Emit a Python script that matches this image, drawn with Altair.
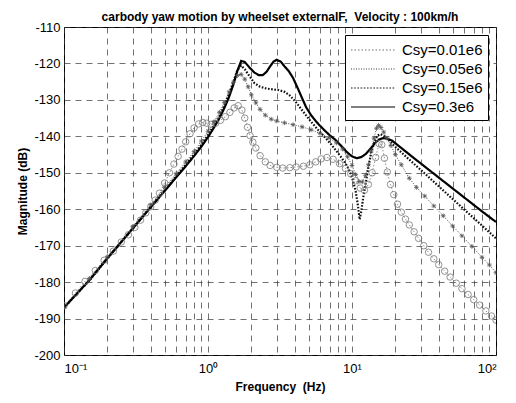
import altair as alt
import pandas as pd

series_names = ["Csy=0.01e6", "Csy=0.05e6", "Csy=0.15e6", "Csy=0.3e6"]

# Csy=0.01e6 (circles)
freq_a = [0.1, 0.12, 0.14, 0.165, 0.19, 0.22, 0.25, 0.28, 0.31, 0.34, 0.37, 0.4, 0.43, 0.46, 0.5,
          0.54, 0.58, 0.62, 0.66, 0.7, 0.75, 0.8, 0.86, 0.92, 0.98, 1.05, 1.13, 1.22, 1.32, 1.42,
          1.52, 1.62, 1.72, 1.8, 1.88, 1.96, 2.05, 2.15, 2.3, 2.5, 2.7, 3.0, 3.3, 3.7, 4.1, 4.6,
          5.1, 5.6, 6.1, 6.7, 7.4, 8.2, 9.0, 9.8, 10.6, 11.4, 12.2, 13.0, 13.8, 14.6, 15.4, 16.1,
          16.8, 17.6, 18.5, 19.5, 20.7, 22, 23.5, 25, 27, 29, 31.5, 34, 37, 40, 44, 48, 53, 58,
          64, 70, 77, 85, 93, 100]
db_a = [-186.5, -183, -179.8, -176.8, -174, -171.5, -169, -167, -165, -163, -161, -159.3, -157.5,
        -155.6, -152.8, -150, -147.6, -145.5, -143.5, -141.5, -139.3, -137.7, -136.6, -136.2,
        -136.4, -136.7, -136.4, -135.6, -134.6, -133.4, -132.2, -131.6, -132.8, -135, -137.5,
        -139.8, -141.6, -143.2, -145.3, -147, -148, -148.5, -148.7, -148.6, -148.4, -148.2,
        -147.8, -147, -146.2, -145.8, -146.3, -147.5, -148.8, -150.3, -152.2, -154.2, -154.8,
        -153.2, -150, -145.8, -142, -142.3, -146, -149.8, -153.2, -156, -158.6, -160.8, -162.7,
        -164.3, -166.2, -168, -170, -171.8, -173.6, -175.2, -177, -178.6, -180.3, -181.8, -183.4,
        -184.8, -186.3, -187.9, -189.3, -190.4]

# Csy=0.05e6 (stars)
freq_b = [0.1, 0.15, 0.2, 0.3, 0.4, 0.5, 0.6, 0.7, 0.8, 0.9, 1.0, 1.1, 1.2, 1.3, 1.4, 1.5, 1.6,
          1.7, 1.8, 1.9, 2.0, 2.15, 2.3, 2.5, 2.75, 3.0, 3.4, 3.9, 4.5, 5.2, 6.0, 6.9, 7.8, 8.6,
          9.3, 10.0, 10.6, 11.2, 11.8, 12.4, 13.0, 13.6, 14.2, 14.8, 15.3, 15.9, 16.6, 17.5, 18.6,
          20, 22, 25, 28, 32, 37, 43, 50, 58, 68, 80, 90, 100]
db_b = [-187, -179, -173, -164.8, -158.8, -154, -150.3, -147, -144.2, -141.3, -138.6, -136,
        -133.4, -130.7, -127.8, -125.2, -123.3, -123, -124.3, -126.4, -128.6, -130.8, -132.6,
        -134.2, -135.3, -135.8, -136.3, -136.8, -137.4, -138.2, -139.2, -140.4, -141.8, -143.5,
        -145.6, -148, -150.5, -152.4, -152.5, -150.8, -147.8, -144, -140.5, -137.8, -137,
        -137.6, -138.8, -140.5, -142.5, -145, -147.8, -151.5, -154, -156.4, -159.1, -161.8,
        -164.6, -167.3, -170.2, -173.2, -175.3, -177.4]

# Csy=0.15e6 (dotted)
freq_c = [0.1, 0.15, 0.2, 0.3, 0.4, 0.5, 0.6, 0.7, 0.8, 0.9, 1.0, 1.1, 1.2, 1.3, 1.4, 1.5, 1.6,
          1.7, 1.8, 1.95, 2.1, 2.3, 2.55, 2.8, 3.1, 3.4, 3.7, 4.0, 4.3, 4.7, 5.2, 5.8, 6.5, 7.2,
          8.0, 8.8, 9.5, 10.1, 10.6, 11.0, 11.3, 11.6, 12.0, 12.5, 13.0, 13.6, 14.3, 15.0, 15.8,
          16.8, 18, 19.5, 22, 26, 32, 40, 50, 63, 80, 100]
db_c = [-187, -179.5, -173.5, -165.3, -159.3, -154.8, -151, -147.8, -145, -142.3, -139.6, -137,
        -134.4, -131.5, -128.4, -125, -121.8, -120.6, -121.6, -123.6, -125.4, -126.4, -126.9,
        -127.1, -127.3, -127.8, -128.8, -130.2, -131.8, -133.8, -136, -138.2, -140.3, -142.3,
        -144.6, -146.8, -149, -151.8, -155, -159, -162.8, -160.5, -156.5, -152.5, -148.5,
        -144.5, -141.5, -139.8, -139.4, -140, -141, -142.5, -144.4, -147, -150.2, -153.7,
        -157.2, -160.8, -164.5, -168]

# Csy=0.3e6 (solid)
freq_d = [0.1, 0.15, 0.2, 0.3, 0.4, 0.5, 0.6, 0.7, 0.8, 0.9, 1.0, 1.1, 1.2, 1.3, 1.4, 1.5, 1.6,
          1.7, 1.8, 1.95, 2.1, 2.25, 2.4, 2.55, 2.7, 2.85, 3.0, 3.2, 3.4, 3.65, 3.9, 4.2, 4.5,
          4.8, 5.2, 5.6, 6.0, 6.5, 7.0, 7.7, 8.4, 9.2, 10.0, 10.8, 11.6, 12.5, 13.5, 14.5, 15.5,
          16.5, 17.5, 19, 22, 26, 32, 40, 50, 63, 80, 100]
db_d = [-187, -179.5, -173.5, -165.3, -159.5, -155, -151.3, -148.2, -145.4, -142.8, -140.2,
        -137.6, -135, -132.2, -129.2, -125.8, -122, -119.3, -119.6, -121.2, -122.5, -123.2,
        -123.2, -122.3, -120.8, -119.5, -119, -119.5, -120.8, -122.2, -124, -126.8, -129.5,
        -132, -134.2, -135.8, -137.1, -138.5, -139.7, -141, -142.6, -144.3, -145.5, -146,
        -145.7, -144.8, -143.3, -141.8, -140.8, -140.5, -140.6, -141.2, -143.2, -145.5, -148.3,
        -151.3, -154.3, -157.4, -160.6, -163.5]

x_ticks = [0.1, 0.2, 0.3, 0.4, 0.5, 0.6, 0.7, 0.8, 0.9, 1, 2, 3, 4, 5, 6, 7, 8, 9,
           10, 20, 30, 40, 50, 60, 70, 80, 90, 100]
y_ticks = [-200, -190, -180, -170, -160, -150, -140, -130, -120, -110]

rows = []
for name, fs, ds in zip(series_names, [freq_a, freq_b, freq_c, freq_d], [db_a, db_b, db_c, db_d]):
    for f, d in zip(fs, ds):
        rows.append({"series": name, "freq": f, "db": d})
df = pd.DataFrame(rows)

FONT = "Liberation Sans"

x_enc = alt.X("freq:Q",
              scale=alt.Scale(type="log", domain=[0.1, 100], nice=False),
              axis=alt.Axis(values=x_ticks, title="Frequency\u00a0 (Hz)",
                            labelExpr="datum.value == 0.1 ? '10⁻¹' : datum.value == 1 ? '10⁰' : datum.value == 10 ? '10¹' : datum.value == 100 ? '10²' : ''",
                            labelPadding=7, titlePadding=6, labelOverlap=False))
y_enc = alt.Y("db:Q",
              scale=alt.Scale(domain=[-200, -110], nice=False),
              axis=alt.Axis(values=y_ticks, title="Magnitude (dB)",
                            labelExpr="'' + datum.value", labelPadding=4, titlePadding=4,
                            labelOverlap=False))

legend_symbol = "M-1,0L3.9,0"
legend = alt.Legend(title=None, orient="top-right", offset=8, fillColor="white",
                    strokeColor="black", padding=5, labelFont=FONT, labelFontSize=15,
                    labelColor="black", symbolType=legend_symbol, symbolSize=324,
                    symbolStrokeWidth=1.2, rowPadding=1, labelOffset=32)

colors = ["#707070", "#3a3a3a", "#111111", "#000000"]
dashes = [[1.5, 2], [1, 1.5], [1.6, 1.6], [1, 0]]
widths = [0.8, 0.9, 2.2, 2.2]

color_enc = alt.Color("series:N", scale=alt.Scale(domain=series_names, range=colors), legend=legend)
dash_enc = alt.StrokeDash("series:N", scale=alt.Scale(domain=series_names, range=dashes), legend=legend)

line_layers = []
for name, w in zip(series_names, widths):
    line_layers.append(
        alt.Chart(df).transform_filter(alt.datum.series == name)
        .mark_line(clip=True, strokeWidth=w)
        .encode(x=x_enc, y=y_enc, color=color_enc, strokeDash=dash_enc, order="freq:Q")
    )

circles = alt.Chart(df).transform_filter(alt.datum.series == series_names[0]).mark_point(
    shape="circle", filled=False, color="#777777", size=42, strokeWidth=0.8, opacity=1, clip=True
).encode(x=x_enc, y=y_enc)

asterisk = "M-1,0L1,0M0,-1L0,1M-0.7,-0.7L0.7,0.7M-0.7,0.7L0.7,-0.7"
stars = alt.Chart(df).transform_filter(alt.datum.series == series_names[1]).mark_point(
    shape=asterisk, filled=False, color="#555555", size=22, strokeWidth=0.8, opacity=1, clip=True
).encode(x=x_enc, y=y_enc)

chart = alt.layer(*line_layers, circles, stars).properties(
    width=432, height=328,
    title=alt.TitleParams("carbody yaw motion by wheelset externalF,\u00a0 Velocity : 100km/h",
                          font=FONT, fontSize=12, fontWeight="bold", color="black",
                          anchor="middle", offset=-3),
    autosize=alt.AutoSizeParams(type="none"),
    padding={"left": 56, "top": 19, "right": 12, "bottom": 40},
).configure_view(
    stroke="black", strokeWidth=1
).configure_axis(
    domain=False, ticks=False, grid=True, gridDash=[6, 5], gridColor="#333333",
    gridWidth=0.7, gridOpacity=1, labelFont=FONT, labelFontSize=13, labelColor="black",
    titleFont=FONT, titleFontSize=12, titleFontWeight="bold", titleColor="black"
)

chart.save("out.html", embed_options={"renderer": "svg", "actions": False})
